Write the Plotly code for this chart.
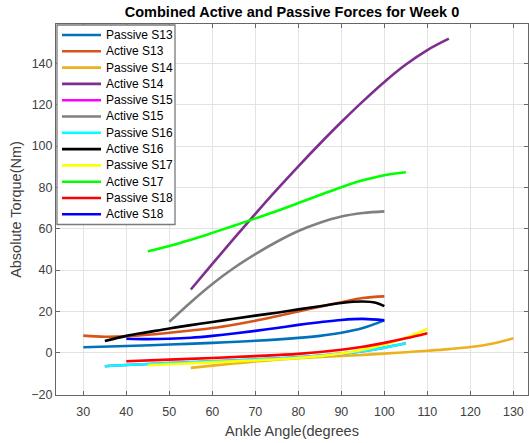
import plotly.graph_objects as go

# ---------------- data ----------------
names = ["Passive S13", "Active S13", "Passive S14", "Active S14",
         "Passive S15", "Active S15", "Passive S16", "Active S16",
         "Passive S17", "Active S17", "Passive S18", "Active S18"]

passive_s13_x = [30, 40, 50, 60, 70, 80, 85, 90, 95, 100]
passive_s13_y = [2.7, 3.3, 4.0, 4.8, 5.8, 7.2, 8.2, 9.7, 12.0, 15.7]

active_s13_x = [30, 35, 40, 45, 50, 55, 60, 65, 70, 75, 80, 85, 90, 95, 100]
active_s13_y = [8.3, 7.8, 8.0, 8.7, 9.7, 10.8, 12.0, 13.6, 15.5, 17.7, 20.0, 22.3, 24.5, 26.5, 27.3]

passive_s14_x = [55, 60, 65, 70, 75, 80, 85, 90, 95, 100, 105, 110, 115, 120, 125, 130]
passive_s14_y = [-7.3, -6.2, -5.2, -4.2, -3.3, -2.6, -2.0, -1.5, -1.0, -0.4, 0.3, 1.0, 1.8, 2.8, 4.4, 7.0]

active_s14_x = [55, 60, 65, 70, 75, 80, 85, 90, 95, 100, 105, 110, 115]
active_s14_y = [30.6, 43.0, 55.2, 67.2, 78.9, 90.2, 101.1, 111.6, 121.6, 131.0, 139.4, 146.4, 151.9]

passive_s15_x = [35, 40, 50, 60, 70, 80, 90, 95, 100, 105]
passive_s15_y = [-6.5, -5.9, -5.0, -4.1, -3.2, -2.2, -0.4, 0.8, 2.5, 4.6]

active_s15_x = [50, 55, 60, 65, 70, 75, 80, 85, 90, 95, 100]
active_s15_y = [15.0, 24.5, 33.3, 41.0, 47.7, 53.7, 58.9, 62.9, 65.9, 67.6, 68.4]

passive_s16_x = [35, 40, 50, 60, 70, 80, 90, 95, 100, 105]
passive_s16_y = [-6.5, -5.9, -5.0, -4.1, -3.2, -2.2, -0.4, 0.8, 2.5, 4.6]

active_s16_x = [35, 40, 45, 50, 55, 60, 65, 70, 75, 80, 85, 90, 95, 98, 100]
active_s16_y = [5.7, 8.2, 10.0, 11.8, 13.4, 14.9, 16.5, 18.0, 19.4, 21.0, 22.5, 24.1, 24.8, 24.2, 22.6]

passive_s17_x = [45, 50, 60, 70, 80, 90, 95, 100, 105, 110]
passive_s17_y = [-6.0, -5.5, -4.6, -3.7, -2.5, -0.3, 1.5, 4.0, 7.3, 11.5]

active_s17_x = [45, 50, 55, 60, 65, 70, 75, 80, 85, 90, 95, 100, 105]
active_s17_y = [49.1, 51.7, 54.7, 58.0, 61.4, 65.0, 68.6, 72.4, 76.3, 80.1, 83.4, 85.9, 87.3]

passive_s18_x = [40, 50, 60, 70, 80, 90, 95, 100, 105, 110]
passive_s18_y = [-4.1, -3.3, -2.5, -1.6, -0.5, 1.5, 2.9, 4.8, 7.0, 9.5]

active_s18_x = [40, 45, 50, 55, 60, 65, 70, 75, 80, 85, 90, 95, 100]
active_s18_y = [6.8, 6.6, 6.8, 7.3, 8.2, 9.3, 10.6, 12.0, 13.5, 14.8, 15.9, 16.4, 15.7]

x_ticks = [30, 40, 50, 60, 70, 80, 90, 100, 110, 120, 130]
y_ticks = [-20, 0, 20, 40, 60, 80, 100, 120, 140]

series_x = [passive_s13_x, active_s13_x, passive_s14_x, active_s14_x,
            passive_s15_x, active_s15_x, passive_s16_x, active_s16_x,
            passive_s17_x, active_s17_x, passive_s18_x, active_s18_x]
series_y = [passive_s13_y, active_s13_y, passive_s14_y, active_s14_y,
            passive_s15_y, active_s15_y, passive_s16_y, active_s16_y,
            passive_s17_y, active_s17_y, passive_s18_y, active_s18_y]

colors = ["#0072BD", "#D95319", "#EDB120", "#7E2F8E", "#FF00FF", "#808080",
          "#00FFFF", "#000000", "#FFFF00", "#00FF00", "#FF0000", "#0000FF"]

# ---------------- figure ----------------
W, H = 529, 443
L, R, T, B = 56, 1, 24, 48
PW, PH = W - L - R, H - T - B

def fx(px):
    return (px - L) / PW

def fy(py):
    return (H - B - py) / PH

fig = go.Figure()
for n, xs, ys, c in zip(names, series_x, series_y, colors):
    fig.add_trace(go.Scatter(x=xs, y=ys, mode="lines", name=n,
                             line=dict(color=c, width=2.6, shape="spline", smoothing=1.0),
                             showlegend=False))

font_family = "Liberation Sans, Arial, sans-serif"
axis_common = dict(showgrid=True, gridcolor="#e3e3e3", gridwidth=1,
                   showline=True, linecolor="#666666", linewidth=1, mirror="allticks",
                   ticks="inside", ticklen=4, tickcolor="#666666", zeroline=False,
                   tickfont=dict(family=font_family, size=12.5, color="#404040"))

fig.update_layout(
    width=W, height=H,
    margin=dict(l=L, r=R, t=T, b=B),
    paper_bgcolor="white", plot_bgcolor="white",
    title=dict(text="<b>Combined Active and Passive Forces for Week 0</b>",
               x=(L + PW / 2) / W, xanchor="center", y=1 - 12 / H, yanchor="middle",
               font=dict(family=font_family, size=14.5, color="#000000")),
    xaxis=dict(range=[23.65, 133.4], tickvals=x_ticks, ticklabelstandoff=5,
               title=dict(text="Ankle Angle(degrees", standoff=7,
                          font=dict(family=font_family, size=14.5, color="#404040")),
               **axis_common),
    yaxis=dict(range=[-20.4, 159], tickvals=y_ticks,
               title=dict(text="Absolute Torque(Nm)", standoff=6,
                          font=dict(family=font_family, size=14.5, color="#404040")),
               **axis_common),
)

# ---------------- legend (drawn as shapes + text) ----------------
shapes = [dict(type="rect", xref="paper", yref="paper",
               x0=fx(57), x1=fx(175), y0=fy(25), y1=fy(224.5),
               fillcolor="white", line=dict(color="#7a7a7a", width=1.3), layer="above")]
annotations = []
for i, (n, c) in enumerate(zip(names, colors)):
    yy = 35 + i * 16.3
    shapes.append(dict(type="line", xref="paper", yref="paper",
                       x0=fx(62), x1=fx(101), y0=fy(yy), y1=fy(yy),
                       line=dict(color=c, width=2.6), layer="above"))
    annotations.append(dict(text=n, xref="paper", yref="paper", x=fx(103.5), y=fy(yy),
                            xanchor="left", yanchor="middle", showarrow=False,
                            font=dict(family=font_family, size=12, color="#000000")))
fig.update_layout(shapes=shapes, annotations=annotations)

fig.write_html("out.html")
